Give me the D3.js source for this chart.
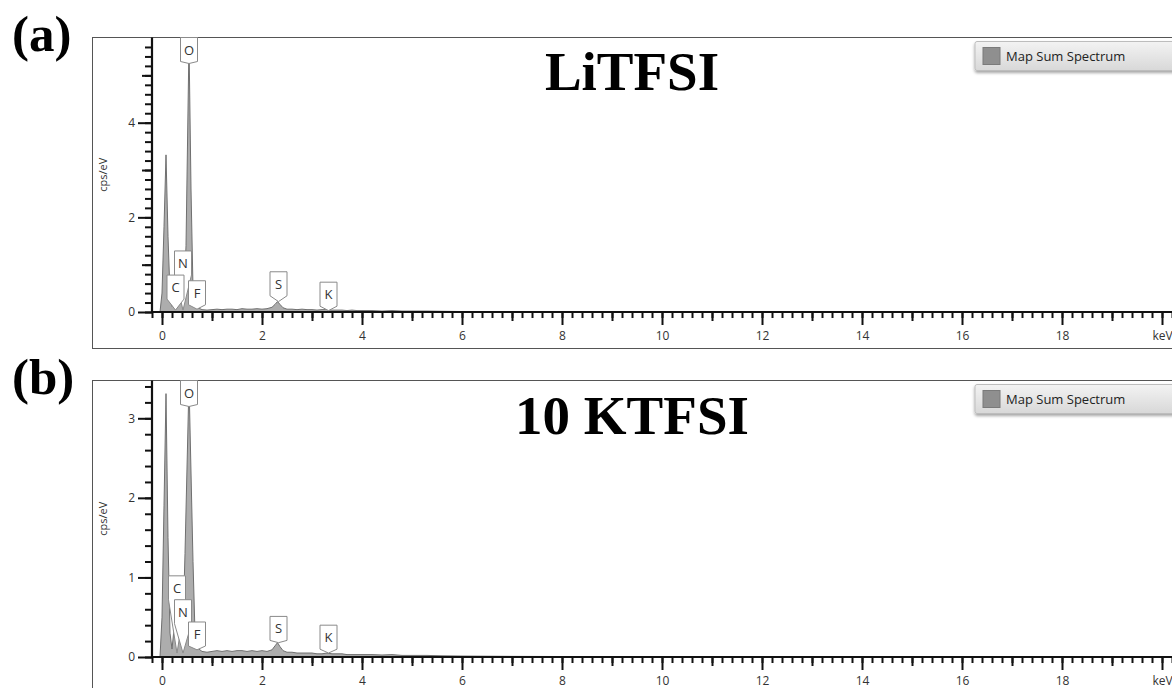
<!DOCTYPE html>
<head>
  <meta charset="utf-8">
  <script src="https://d3js.org/d3.v7.min.js"></script>
  <style>
    body { margin: 0; background: #ffffff; }
    svg { display: block; }
    .tick text { font-family: 'Open Sans', sans-serif; font-size: 12px; fill: #333333; }
    .tick line { stroke: #111111; stroke-width: 2px; }
    .axis path { display: none; }
    .axisLine { stroke: #111111; stroke-width: 2.2px; }
    .frame { fill: none; stroke: #555555; stroke-width: 1px; }
    .yLabel { font-family: 'Open Sans', sans-serif; font-size: 11px; fill: #333333; }
    .title { font-family: 'Liberation Serif', 'Times New Roman', serif; font-weight: bold; font-size: 55px; fill: #000; }
    .letter { font-family: 'Liberation Serif', 'Times New Roman', serif; font-weight: bold; font-size: 51px; fill: #000; }
    .spectrum { fill: #adadad; stroke: #6f6f6f; stroke-width: 1px; }
    .peakBox { fill: #ffffff; stroke: #8a8a8a; stroke-width: 1px; }
    .peakText { font-family: 'Open Sans', sans-serif; font-size: 13px; fill: #333333; }
    .legendText { font-family: 'Open Sans', sans-serif; font-size: 13px; fill: #222222; }
  </style>
</head>

<body>

<script>

///////////////////////////////////////////////////////////////////////////
//////////////////////////// Data //////////////////////
///////////////////////////////////////////////////////////////////////////

// [keV, cps/eV]
const spectrumA = [
  [-0.2, 0], [-0.04, 0], [0.0, 0.4], [0.04, 1.8], [0.08, 3.32], [0.12, 1.6], [0.16, 0.4],
  [0.2, 0.12], [0.24, 0.22], [0.28, 0.32], [0.32, 0.2], [0.36, 0.25], [0.4, 0.32], [0.44, 0.3],
  [0.48, 1.4], [0.54, 5.7], [0.58, 2.6], [0.62, 0.5], [0.66, 0.16], [0.7, 0.12], [0.74, 0.08],
  [0.8, 0.05], [0.9, 0.04], [1.0, 0.05], [1.1, 0.06], [1.2, 0.05], [1.3, 0.06], [1.4, 0.06],
  [1.5, 0.05], [1.6, 0.07], [1.7, 0.06], [1.8, 0.06], [1.9, 0.07], [2.0, 0.06], [2.1, 0.07],
  [2.2, 0.1], [2.26, 0.16], [2.31, 0.22], [2.36, 0.16], [2.42, 0.09], [2.5, 0.06], [2.6, 0.06],
  [2.7, 0.05], [2.8, 0.06], [2.9, 0.05], [3.0, 0.05], [3.1, 0.04], [3.2, 0.05], [3.3, 0.05],
  [3.4, 0.04], [3.5, 0.04], [3.6, 0.04], [3.7, 0.03], [3.8, 0.04], [3.9, 0.03], [4.0, 0.03],
  [4.2, 0.03], [4.4, 0.02], [4.6, 0.03], [4.8, 0.02], [5.0, 0.02], [5.3, 0.02], [5.6, 0.015],
  [6.0, 0.01], [7.0, 0.008], [8.0, 0.005], [10, 0.003], [12, 0.002], [15, 0.001], [20.4, 0]
];

const spectrumB = [
  [-0.2, 0], [-0.04, 0], [0.0, 0.5], [0.04, 1.9], [0.08, 3.31], [0.12, 1.5], [0.16, 0.3],
  [0.2, 0.1], [0.24, 0.35], [0.28, 0.62], [0.32, 0.4], [0.36, 0.45], [0.4, 0.55], [0.42, 0.4],
  [0.46, 1.3], [0.54, 3.45], [0.62, 1.2], [0.66, 0.3], [0.7, 0.14], [0.74, 0.1], [0.8, 0.07],
  [0.9, 0.06], [1.0, 0.07], [1.1, 0.08], [1.2, 0.07], [1.3, 0.08], [1.4, 0.07], [1.5, 0.08],
  [1.6, 0.08], [1.7, 0.07], [1.8, 0.08], [1.9, 0.07], [2.0, 0.08], [2.1, 0.07], [2.2, 0.09],
  [2.26, 0.14], [2.31, 0.18], [2.36, 0.13], [2.42, 0.08], [2.5, 0.06], [2.6, 0.06], [2.7, 0.05],
  [2.8, 0.05], [2.9, 0.05], [3.0, 0.05], [3.1, 0.04], [3.2, 0.04], [3.3, 0.05], [3.4, 0.04],
  [3.5, 0.04], [3.6, 0.04], [3.7, 0.03], [3.8, 0.03], [3.9, 0.03], [4.0, 0.03], [4.2, 0.03],
  [4.4, 0.025], [4.6, 0.03], [4.8, 0.02], [5.0, 0.02], [5.3, 0.02], [5.6, 0.015], [6.0, 0.012],
  [7.0, 0.008], [8.0, 0.006], [10, 0.004], [12, 0.003], [15, 0.002], [20.4, 0.001]
];

// element markers: energy, box top level and pointer tip level (cps/eV)
const peaksA = [
  { el: "O", keV: 0.54, top: 5.8, tip: null },
  { el: "N", keV: 0.42, top: 1.29, tip: 0.04 },
  { el: "C", keV: 0.27, top: 0.78, tip: 0.04 },
  { el: "F", keV: 0.70, top: 0.66, tip: 0.06 },
  { el: "S", keV: 2.33, top: 0.85, tip: 0.22 },
  { el: "K", keV: 3.33, top: 0.63, tip: 0.03 }
];

const peaksB = [
  { el: "O", keV: 0.54, top: 3.475, tip: null },
  { el: "C", keV: 0.30, top: 1.02, tip: 0.05 },
  { el: "N", keV: 0.42, top: 0.72, tip: 0.05 },
  { el: "F", keV: 0.70, top: 0.44, tip: 0.09 },
  { el: "S", keV: 2.33, top: 0.51, tip: 0.18 },
  { el: "K", keV: 3.33, top: 0.40, tip: 0.05 }
];

const xLabelTicks = [0, 2, 4, 6, 8, 10, 12, 14, 16, 18, 20];
const yLabelTicksA = [0, 2, 4];
const yLabelTicksB = [0, 1, 2, 3];

///////////////////////////////////////////////////////////////////////////
//////////////////// Set up svg ///////////////////////////////////////////
///////////////////////////////////////////////////////////////////////////

const W = 1172, H = 688;

const svg = d3.select("body")
  .append("svg")
  .attr("width", W)
  .attr("height", H);

const defs = svg.append("defs");

const grad = defs.append("linearGradient")
  .attr("id", "legendGrad")
  .attr("x1", 0).attr("y1", 0).attr("x2", 0).attr("y2", 1);
grad.append("stop").attr("offset", "0%").attr("stop-color", "#f3f3f3");
grad.append("stop").attr("offset", "100%").attr("stop-color", "#d8d8d8");

const shadow = defs.append("filter").attr("id", "shadow")
  .attr("x", "-10%").attr("y", "-30%").attr("width", "130%").attr("height", "180%");
shadow.append("feDropShadow")
  .attr("dx", 0).attr("dy", 2).attr("stdDeviation", 1.5)
  .attr("flood-color", "#000").attr("flood-opacity", 0.35);

const x = d3.scaleLinear().domain([-0.2, 20]).range([152, 1162]);

///////////////////////////////////////////////////////////////////////////
//////////////////////////// Draw one panel ///////////////////////////////
///////////////////////////////////////////////////////////////////////////

function drawPanel(p) {
  const g = svg.append("g");

  const y = d3.scaleLinear().domain([0, p.yMax]).range([p.axisY, p.frameTop]);

  // frame
  g.append("rect")
    .attr("class", "frame")
    .attr("x", 92.5).attr("y", p.frameTop)
    .attr("width", 1200).attr("height", p.frameBottom - p.frameTop);

  // clip for spectrum
  defs.append("clipPath").attr("id", "clip" + p.id)
    .append("rect")
    .attr("x", 152).attr("y", p.frameTop)
    .attr("width", 1100).attr("height", p.axisY - p.frameTop);

  const area = d3.area()
    .x(d => x(d[0]))
    .y0(y(0))
    .y1(d => y(d[1]));

  g.append("path")
    .datum(p.spectrum)
    .attr("class", "spectrum")
    .attr("clip-path", "url(#clip" + p.id + ")")
    .attr("d", area);

  // x axis: minor, medium, major
  const xMinor = d3.range(-1, 102).map(i => +(i * 0.2).toFixed(1));
  const xMid = d3.range(0, 21, 1).filter(v => v % 2 !== 0);

  g.append("g").attr("class", "axis")
    .attr("transform", "translate(0," + p.axisY + ")")
    .call(d3.axisBottom(x).tickValues(xMinor).tickSize(6).tickSizeOuter(0).tickFormat(""));
  g.append("g").attr("class", "axis")
    .attr("transform", "translate(0," + p.axisY + ")")
    .call(d3.axisBottom(x).tickValues(xMid).tickSize(9).tickSizeOuter(0).tickFormat(""));
  g.append("g").attr("class", "axis")
    .attr("transform", "translate(0," + p.axisY + ")")
    .call(d3.axisBottom(x).tickValues(xLabelTicks).tickSize(13).tickSizeOuter(0).tickPadding(6)
      .tickFormat(d => d === 20 ? "keV" : d));

  // y axis
  const yMinor = d3.range(0, Math.floor(p.yMax / 0.2) + 1).map(i => +(i * 0.2).toFixed(1));
  g.append("g").attr("class", "axis")
    .attr("transform", "translate(152,0)")
    .call(d3.axisLeft(y).tickValues(yMinor).tickSize(7).tickSizeOuter(0).tickFormat(""));
  g.append("g").attr("class", "axis")
    .attr("transform", "translate(152,0)")
    .call(d3.axisLeft(y).tickValues(p.yMid).tickSize(10).tickSizeOuter(0).tickFormat(""));
  g.append("g").attr("class", "axis")
    .attr("transform", "translate(152,0)")
    .call(d3.axisLeft(y).tickValues(p.yTicks).tickSize(14).tickSizeOuter(0).tickPadding(3)
      .tickFormat(d3.format("d")));

  g.append("line").attr("class", "axisLine")
    .attr("x1", 151).attr("x2", 1172).attr("y1", p.axisY).attr("y2", p.axisY);
  g.append("line").attr("class", "axisLine")
    .attr("x1", 152).attr("x2", 152).attr("y1", p.frameTop).attr("y2", p.axisY + 1);

  g.append("text")
    .attr("class", "yLabel")
    .attr("transform", "translate(107," + ((p.frameTop + p.axisY) / 2) + ") rotate(-90)")
    .attr("text-anchor", "middle")
    .text("cps/eV");

  // element markers
  const boxW = 17, boxH = 24;
  const marks = g.selectAll(".peak")
    .data(p.peaks)
    .enter().append("g");

  marks.append("path")
    .attr("class", "peakBox")
    .attr("d", d => {
      const cx = x(d.keV), t = y(d.top), b = t + boxH;
      const tip = d.tip === null ? b + 2 : y(d.tip);
      return "M" + (cx - boxW / 2) + "," + t + "H" + (cx + boxW / 2) + "V" + b +
        "L" + cx + "," + tip + "L" + (cx - boxW / 2) + "," + b + "Z";
    });

  marks.append("text")
    .attr("class", "peakText")
    .attr("x", d => x(d.keV))
    .attr("y", d => y(d.top) + 17)
    .attr("text-anchor", "middle")
    .text(d => d.el);

  // legend
  const lg = g.append("g").attr("transform", "translate(975," + (p.frameTop + 4) + ")");
  lg.append("rect")
    .attr("width", 215).attr("height", 29).attr("rx", 2)
    .attr("fill", "url(#legendGrad)").attr("stroke", "#bdbdbd")
    .attr("filter", "url(#shadow)");
  lg.append("rect")
    .attr("x", 8).attr("y", 6).attr("width", 17).attr("height", 17)
    .attr("fill", "#8f8f8f").attr("stroke", "#7a7a7a");
  lg.append("text")
    .attr("class", "legendText")
    .attr("x", 31).attr("y", 19.5)
    .text("Map Sum Spectrum");

  // titles
  svg.append("text")
    .attr("class", "title")
    .attr("x", 632).attr("y", p.titleY)
    .attr("text-anchor", "middle")
    .text(p.title);

  svg.append("text")
    .attr("class", "letter")
    .attr("x", 12).attr("y", p.letterY)
    .text(p.letter);
}

drawPanel({
  id: "a", frameTop: 37.5, axisY: 312, frameBottom: 348.5, yMax: 5.8,
  yTicks: yLabelTicksA, yMid: [1, 3, 5],
  spectrum: spectrumA, peaks: peaksA,
  title: "LiTFSI", titleY: 90, letter: "(a)", letterY: 51
});

drawPanel({
  id: "b", frameTop: 380.5, axisY: 657, frameBottom: 720, yMax: 3.475,
  yTicks: yLabelTicksB, yMid: [],
  spectrum: spectrumB, peaks: peaksB,
  title: "10 KTFSI", titleY: 434, letter: "(b)", letterY: 394
});

</script>
</body>
